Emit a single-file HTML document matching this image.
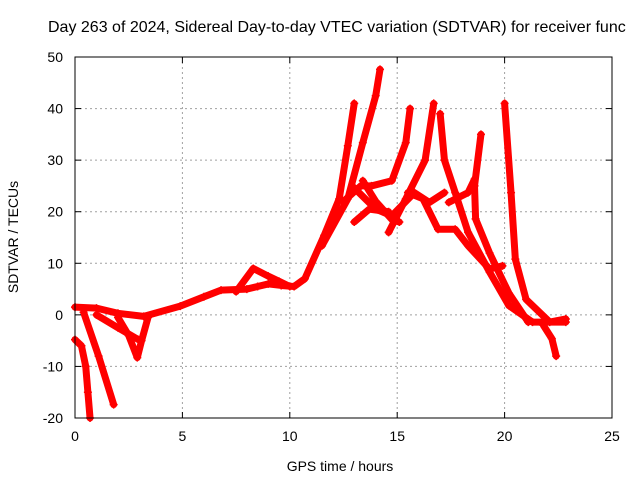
<!DOCTYPE html>
<html><head><meta charset="utf-8"><style>
html,body{margin:0;padding:0;background:#fff;}
svg{display:block;font-family:"Liberation Sans",sans-serif;}
</style></head><body>
<svg id="chart" width="640" height="480" viewBox="0 0 640 480" xmlns="http://www.w3.org/2000/svg">
<rect width="640" height="480" fill="#fff"/>
<text x="48" y="32" font-size="16" fill="#000">Day 263 of 2024, Sidereal Day-to-day VTEC variation (SDTVAR) for receiver func</text>
<g id="grid"></g>
<g id="marks"></g>
<g id="axes"></g>
<text x="340" y="471" font-size="14" text-anchor="middle">GPS time / hours</text>
<text transform="translate(18,237) rotate(-90)" font-size="14" text-anchor="middle">SDTVAR / TECUs</text>
</svg>
<script>
const xTicks=[0,5,10,15,20,25];
const yTicks=[-20,-10,0,10,20,30,40,50];
const trackNames=["low-band","branch-a","branch-b","branch-v","branch-c","bump","rise-a","rise-b","rise-c","rise-d","fall-e","fall-f","fall-g","dip-g","mesh-1","mesh-2","mesh-4","mesh-i","mesh-j"];
const trackX=[
 [0,1,2,3.2,4.9,6,6.8,8,8.5,9,9.6,10.2,10.7,11.6,12.3,12.7,13.0],
 [0.4,1.1,1.8],
 [0,0.3,0.5,0.6,0.7],
 [2.0,2.5,2.9,3.1,3.4],
 [1.0,2.0,2.95],
 [7.5,8.3,9,9.5,10],
 [11.5,12.7,13.4,14.0,14.2],
 [12.5,13.3,13.8,14.75,15.4,15.6],
 [14.6,15.4,16.3,16.7],
 [17.0,17.2,17.7,18.3,19.3,20.2,21.3,22.85],
 [18.9,18.6,18.65,19.3,20.2,21.1],
 [20.0,20.3,20.5,21.0,22.1,22.85],
 [21.8,22.2,22.4],
 [12.9,14.0,14.75,15.8,16.5,17.2],
 [13.4,14.0,14.75,15.1],
 [13.0,13.7,14.6],
 [15.5,16.2,16.9,17.7,18.3,19.3,19.9],
 [17.4,18.3,18.6],
];
const trackY=[
 [1.5,1.3,0.3,-0.3,1.7,3.5,4.8,5,5.5,6,5.7,5.5,7,15.4,22.5,32.8,41],
 [0.5,-8,-17.4],
 [-4.8,-6,-10,-15,-20],
 [-0.5,-4,-8.3,-5,-0.5],
 [0,-2.5,-4.8],
 [4.5,9,7.5,6.5,5.5],
 [13.4,22.5,33.4,42.5,47.6],
 [22,25,25,26,33.4,40],
 [16,22.5,30,41],
 [39,30,23.7,16,8.3,1.8,-1.4,-1.4],
 [35,25,18.6,12,4.2,-1.4],
 [41,23.7,10.8,3,-1.4,-0.8],
 [-2,-4.6,-8],
 [25,20.5,19.2,23.7,21.8,23.7],
 [26,22,18.5,18],
 [18,20.5,20],
 [23.7,22.5,16.6,16.6,13.4,8.9,9.5],
 [21.8,23.7,26.3],
];
const L=75,R=612,T=57,B=418;
const sx=v=>L+(v-0)/25*(R-L);
const sy=v=>B-(v+20)/70*(B-T);
const NS="http://www.w3.org/2000/svg";
const grid=document.getElementById('grid'),axes=document.getElementById('axes'),marks=document.getElementById('marks');
function mk(tag,attrs,parent){const e=document.createElementNS(NS,tag);for(const k in attrs)e.setAttribute(k,attrs[k]);parent.appendChild(e);return e;}
xTicks.forEach(t=>{
 const x=sx(t);
 if(t>0&&t<25){const g=mk('line',{x1:x,x2:x,y1:T,y2:B,stroke:'#a0a0a0','stroke-dasharray':'2,3','stroke-width':1},grid);
 
 }
 mk('line',{x1:x,x2:x,y1:B,y2:B-6,stroke:'#000'},axes);
 mk('line',{x1:x,x2:x,y1:T,y2:T+6,stroke:'#000'},axes);
 const tx=mk('text',{x:x,y:B+23,'font-size':14,'text-anchor':'middle'},axes);
 tx.textContent=t;
 
 
});
yTicks.forEach(t=>{
 const y=sy(t);
 if(t>-20&&t<50){const g=mk('line',{x1:L,x2:R,y1:y,y2:y,stroke:'#a0a0a0','stroke-dasharray':'2,3','stroke-width':1},grid);
 
 }
 mk('line',{x1:L,x2:L+6,y1:y,y2:y,stroke:'#000'},axes);
 mk('line',{x1:R,x2:R-6,y1:y,y2:y,stroke:'#000'},axes);
 const tx=mk('text',{x:L-12,y:y+5,'font-size':14,'text-anchor':'end'},axes);
 tx.textContent=t;
 
 
});
const frame=mk('rect',{x:L,y:T,width:R-L,height:B-T,fill:'none',stroke:'#000','stroke-width':1},axes);


trackX.forEach((xs,i)=>{
 const ys=trackY[i];
 const pts=xs.map((x,j)=>sx(x)+','+sy(ys[j])).join(' ');
 const pl=mk('polyline',{points:pts,fill:'none',stroke:'#ff0000','stroke-width':7,'stroke-linejoin':'round','stroke-linecap':'round'},marks);
 
 
 xs.forEach((x,j)=>{
  const cx=sx(x),cy=sy(ys[j]);
  const p=mk('path',{d:`M${cx-4},${cy}H${cx+4}M${cx},${cy-4}V${cy+4}`,stroke:'#ff0000','stroke-width':1.5},marks);
  
  
 });
});
</script>
</body></html>
